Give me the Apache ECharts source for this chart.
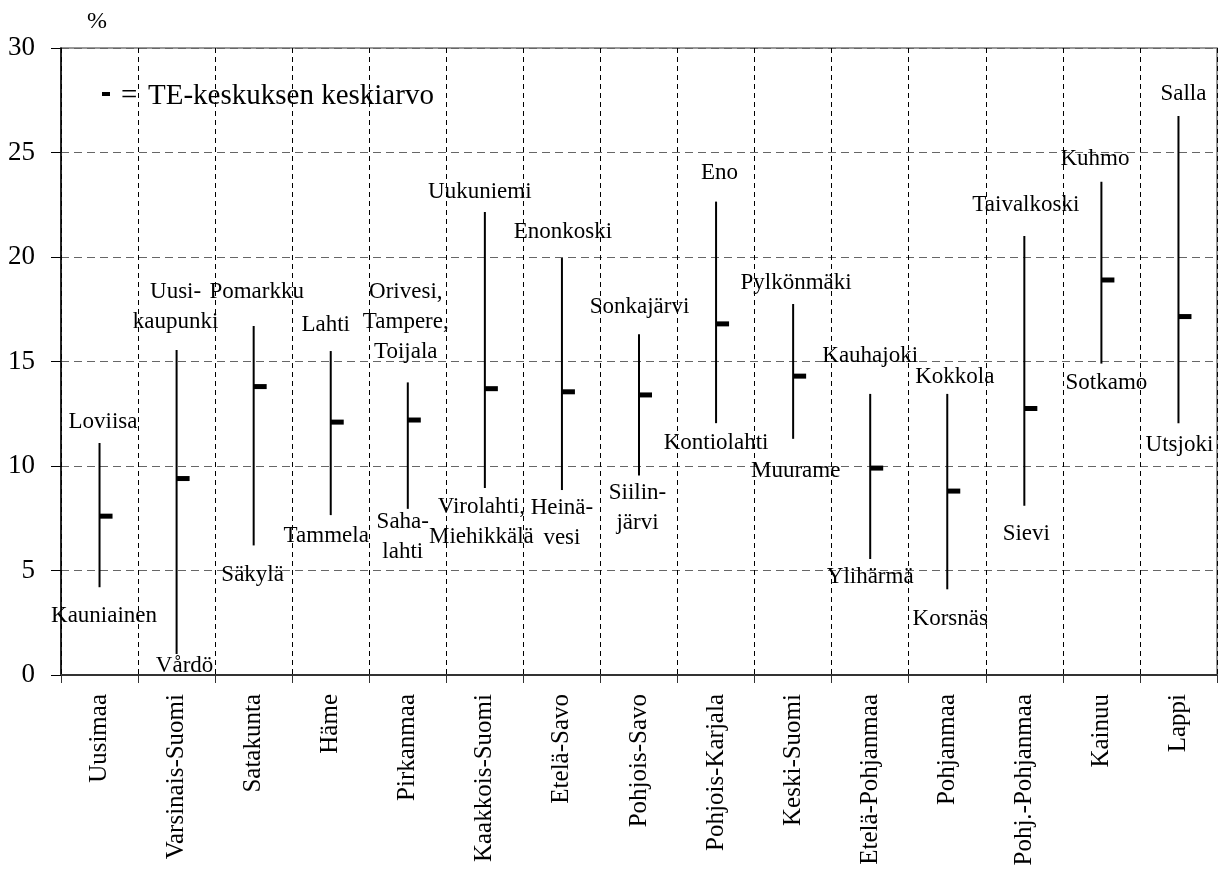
<!DOCTYPE html>
<html>
<head>
<meta charset="utf-8">
<script src="https://cdn.jsdelivr.net/npm/echarts@6/dist/echarts.min.js"></script>
<style>
html,body{margin:0;padding:0;background:#fff;}
#chart{width:1221px;height:873px;}
</style>
</head>
<body>
<div id="chart"></div>
<script>
// ---- data ----
const categories = ['Uusimaa','Varsinais-Suomi','Satakunta','Häme','Pirkanmaa','Kaakkois-Suomi','Etelä-Savo','Pohjois-Savo','Pohjois-Karjala','Keski-Suomi','Etelä-Pohjanmaa','Pohjanmaa','Pohj.-Pohjanmaa','Kainuu','Lappi'];
const highValues = [11.1, 15.55, 16.7, 15.5, 14.0, 22.15, 19.95, 16.3, 22.65, 17.75, 13.45, 13.45, 21.0, 23.6, 26.75];
const lowValues  = [4.2, 1.0, 6.2, 7.65, 7.95, 8.95, 8.85, 9.55, 12.05, 11.3, 5.55, 4.1, 8.1, 14.9, 12.05];
const meanValues = [7.6, 9.4, 13.8, 12.1, 12.2, 13.7, 13.55, 13.4, 16.8, 14.3, 9.9, 8.8, 12.75, 18.9, 17.15];
const topLabels = ['Loviisa','Uusi-\nkaupunki','Pomarkku','Lahti','Orivesi,\nTampere,\nToijala','Uukuniemi','Enonkoski','Sonkajärvi','Eno','Pylkönmäki','Kauhajoki','Kokkola','Taivalkoski','Kuhmo','Salla'];
const bottomLabels = ['Kauniainen','Vårdö','Säkylä','Tammela','Saha-\nlahti','Virolahti,\nMiehikkälä','Heinä-\nvesi','Siilin-\njärvi','Kontiolahti','Muurame','Ylihärmä','Korsnäs','Sievi','Sotkamo','Utsjoki'];
const yTicks = [0, 5, 10, 15, 20, 25, 30];

// ---- layout/styling (label offsets in px relative to line ends) ----
const topOffsets = [[3.5,-21],[-1,-43],[3,-34],[-5,-26],[-2,-60],[-5,-20],[1,-26],[0.5,-27],[3.5,-29],[3,-21],[0,-38],[7.5,-17],[1.5,-31],[-6.5,-23],[5,-22]];
const bottomOffsets = [[4.5,29],[8,12],[-1,30],[-4.5,21],[-5,28.5],[-3.5,34],[0,32.5],[-1.5,32.5],[0,20],[2.5,32],[0,18],[3,30],[2,28],[5,19],[1,22]];

const FONT = '"Liberation Serif", "Times New Roman", serif';
const seriesData = categories.map((c, i) => [i, lowValues[i], highValues[i], meanValues[i]]);

function renderItem(params, api) {
  const i = api.value(0);
  const lo = api.coord([i, api.value(1)]);
  const hi = api.coord([i, api.value(2)]);
  const mn = api.coord([i, api.value(3)]);
  const x = lo[0];
  const children = [
    {type:'line', shape:{x1:x, y1:lo[1], x2:x, y2:hi[1]}, style:{stroke:'#000', lineWidth:2}},
    {type:'rect', shape:{x:x, y:mn[1]-2.5, width:13, height:5}, style:{fill:'#000'}},
    {type:'text', style:{text:topLabels[i], x:x+topOffsets[i][0], y:hi[1]+topOffsets[i][1], align:'center', verticalAlign:'middle', fontSize:23, fontFamily:FONT, fill:'#000', lineHeight:30}},
    {type:'text', style:{text:bottomLabels[i], x:x+bottomOffsets[i][0], y:lo[1]+bottomOffsets[i][1], align:'center', verticalAlign:'middle', fontSize:23, fontFamily:FONT, fill:'#000', lineHeight:30}}
  ];
  return {type:'group', children};
}

const chart = echarts.init(document.getElementById('chart'));
chart.setOption({
  animation:false,
  backgroundColor:'#fff',
  grid:{left:61, right:4, top:48, bottom:198, show:true, borderColor:'#777', borderWidth:1.5, containLabel:false},
  xAxis:{
    type:'category', data:categories, boundaryGap:true,
    axisLine:{lineStyle:{color:'#333', width:2}},
    axisTick:{show:true, length:8, lineStyle:{color:'#333', width:1}},
    axisLabel:{rotate:90, margin:19, color:'#000', fontSize:25, fontFamily:FONT, interval:0},
    splitLine:{show:true, interval:0, lineStyle:{color:'#000', width:1, type:[5,4]}}
  },
  yAxis:{
    type:'value', min:yTicks[0], max:yTicks[yTicks.length-1], interval:5,
    axisLine:{show:true, lineStyle:{color:'#000', width:1.5}},
    axisTick:{show:true, length:10, lineStyle:{color:'#000', width:1}},
    axisLabel:{color:'#000', fontSize:27, fontFamily:FONT, margin:26},
    splitLine:{show:true, lineStyle:{color:'#666', width:1.2, type:[8,5]}}
  },
  graphic:[
    {type:'text', left:87, top:10, style:{text:'%', fontSize:24, fontFamily:FONT, fill:'#000'}},
    {type:'rect', shape:{x:102, y:92, width:8, height:4}, style:{fill:'#000'}},
    {type:'text', x:121, y:96, style:{text:'=', fontSize:29, fontFamily:FONT, fill:'#000', verticalAlign:'middle'}},
    {type:'text', x:148, y:96, style:{text:'TE-keskuksen keskiarvo', fontSize:29, fontFamily:FONT, fill:'#000', verticalAlign:'middle'}}
  ],
  series:[{
    type:'custom', renderItem:renderItem, data:seriesData,
    encode:{x:0, y:[1,2,3]}, clip:false
  }]
});
</script>
</body>
</html>
